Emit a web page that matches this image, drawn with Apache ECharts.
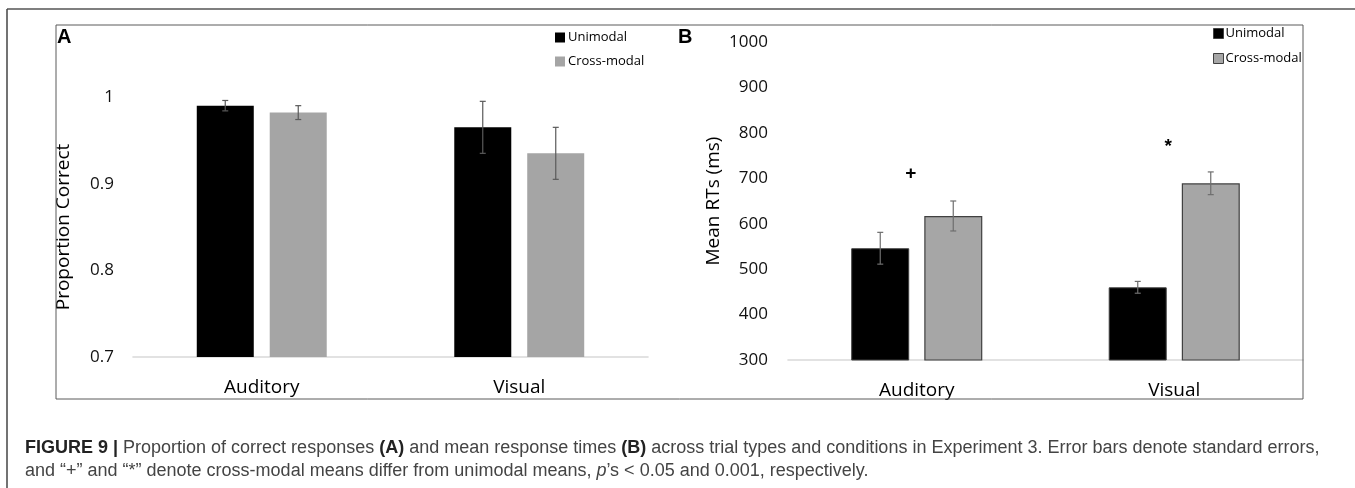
<!DOCTYPE html>
<html>
<head>
<meta charset="utf-8">
<script src="https://cdn.jsdelivr.net/npm/echarts@6/dist/echarts.min.js"></script>
<style>
  html, body { margin: 0; padding: 0; background: #fff; }
  #chart { width: 1355px; height: 488px; }
</style>
</head>
<body>
<div id="chart"></div>
<script>
// ---- data ----
const categories = ['Auditory', 'Visual'];
const seriesNames = ['Unimodal', 'Cross-modal'];
// Panel A: proportion correct
const accUni = [0.990, 0.965];
const accUniErr = [0.006, 0.030];
const accCross = [0.982, 0.935];
const accCrossErr = [0.008, 0.030];
const accMin = 0.7, accMax = 1.0, accStep = 0.1;
// Panel B: mean RTs (ms)
const rtUni = [546, 460];
const rtUniErr = [35, 13];
const rtCross = [617, 689];
const rtCrossErr = [33, 25];
const rtMin = 300, rtMax = 1000, rtStep = 100;
// significance markers (panel B)
const sigLabels = ['+', '*'];
const sigValues = [711, 769];
const captionLine1 = ['FIGURE 9 |', ' Proportion of correct responses ', '(A)', ' and mean response times ', '(B)', ' across trial types and conditions in Experiment 3. Error bars denote standard errors,'];
const captionLine2 = ['and \u201c+\u201d and \u201c*\u201d denote cross-modal means differ from unimodal means, ', 'p', '\u2019s < 0.05 and 0.001, respectively.'];

const FONT = 'Open Sans';
const chart = echarts.init(document.getElementById('chart'), null, { renderer: 'canvas' });

function errorBarSeries(name, gridIdx, vals, errs, side, color) {
  return {
    type: 'custom',
    name: name,
    xAxisIndex: gridIdx,
    yAxisIndex: gridIdx,
    z: 5,
    data: categories.map((c, i) => [i, vals[i], errs[i]]),
    renderItem: function (params, api) {
      const ci = api.value(0), v = api.value(1), e = api.value(2);
      const off = side * 36.5;
      const top = api.coord([ci, v + e]);
      const bot = api.coord([ci, v - e]);
      const x = top[0] + off;
      const cap = 3;
      const st = { stroke: color, lineWidth: 1.2 };
      return {
        type: 'group',
        children: [
          { type: 'line', shape: { x1: x, y1: top[1], x2: x, y2: bot[1] }, style: st },
          { type: 'line', shape: { x1: x - cap, y1: top[1], x2: x + cap, y2: top[1] }, style: st },
          { type: 'line', shape: { x1: x - cap, y1: bot[1], x2: x + cap, y2: bot[1] }, style: st }
        ]
      };
    }
  };
}

const xAxisCommon = {
  type: 'category',
  data: categories,
  axisLine: { lineStyle: { color: '#d9d9d9', width: 1.6 } },
  axisTick: { show: false },
  axisLabel: { fontFamily: FONT, fontSize: 19, color: '#000', margin: 21 }
};

const option = {
  animation: false,
  backgroundColor: '#fff',
  grid: [
    { left: 133, top: 97, width: 515, height: 260 },
    { left: 788, top: 42, width: 515, height: 318 }
  ],
  xAxis: [
    Object.assign({ gridIndex: 0 }, xAxisCommon),
    Object.assign({ gridIndex: 1 }, xAxisCommon)
  ],
  yAxis: [
    {
      gridIndex: 0, type: 'value', min: accMin, max: accMax, interval: accStep,
      axisLine: { show: false }, axisTick: { show: false }, splitLine: { show: false },
      axisLabel: { fontFamily: FONT, fontSize: 17, color: '#111', margin: 19 },
      name: 'Proportion Correct', nameLocation: 'middle', nameGap: 60, nameMoveOverlap: false,
      nameTextStyle: { fontFamily: FONT, fontSize: 19, color: '#000' }
    },
    {
      gridIndex: 1, type: 'value', min: rtMin, max: rtMax, interval: rtStep,
      axisLine: { show: false }, axisTick: { show: false }, splitLine: { show: false },
      axisLabel: { fontFamily: FONT, fontSize: 17, color: '#111', margin: 20,
                   formatter: function (v) { return String(v); } },
      name: 'Mean RTs (ms)', nameLocation: 'middle', nameGap: 65, nameMoveOverlap: false,
      nameTextStyle: { fontFamily: FONT, fontSize: 19, color: '#000' }
    }
  ],
  legend: [
    {
      left: 555, top: 31, padding: 0, orient: 'vertical', itemWidth: 10, itemHeight: 10, itemGap: 11,
      icon: 'rect', selectedMode: false,
      textStyle: { fontFamily: FONT, fontSize: 13, color: '#000', padding: [0, 0, 0, -2] },
      data: [
        { name: seriesNames[0], itemStyle: { color: '#000', borderWidth: 0 } },
        { name: seriesNames[1], itemStyle: { color: '#a5a5a5', borderWidth: 0 } }
      ]
    },
    {
      left: 1213, top: 27, padding: 0, orient: 'vertical', itemWidth: 10, itemHeight: 10, itemGap: 12,
      icon: 'rect', selectedMode: false,
      textStyle: { fontFamily: FONT, fontSize: 13, color: '#000', padding: [0, 0, 0, -3] },
      data: [
        { name: seriesNames[0], itemStyle: { color: '#000', borderColor: '#404040', borderWidth: 1 } },
        { name: seriesNames[1], itemStyle: { color: '#a6a6a6', borderColor: '#404040', borderWidth: 1 } }
      ]
    }
  ],
  series: [
    { type: 'bar', name: seriesNames[0], xAxisIndex: 0, yAxisIndex: 0, data: accUni,
      barWidth: 57, barGap: '28%', itemStyle: { color: '#000' } },
    { type: 'bar', name: seriesNames[1], xAxisIndex: 0, yAxisIndex: 0, data: accCross,
      barWidth: 57, barGap: '28%', itemStyle: { color: '#a5a5a5' } },
    { type: 'bar', name: seriesNames[0], xAxisIndex: 1, yAxisIndex: 1, data: rtUni,
      barWidth: 58, barGap: '26%', itemStyle: { color: '#000', borderColor: '#404040', borderWidth: 1 } },
    { type: 'bar', name: seriesNames[1], xAxisIndex: 1, yAxisIndex: 1, data: rtCross,
      barWidth: 58, barGap: '26%', itemStyle: { color: '#a6a6a6', borderColor: '#404040', borderWidth: 1.2 } },
    errorBarSeries('errA1', 0, accUni, accUniErr, -1, '#5a5a5a'),
    errorBarSeries('errA2', 0, accCross, accCrossErr, 1, '#5a5a5a'),
    errorBarSeries('errB1', 1, rtUni, rtUniErr, -1, '#6e6e6e'),
    errorBarSeries('errB2', 1, rtCross, rtCrossErr, 1, '#6e6e6e'),
    {
      type: 'custom', name: 'sig', xAxisIndex: 1, yAxisIndex: 1, z: 6,
      data: categories.map((c, i) => [i, sigValues[i]]),
      renderItem: function (params, api) {
        const p = api.coord([api.value(0), api.value(1)]);
        return {
          type: 'text', x: p[0] - 6, y: p[1],
          style: { text: sigLabels[params.dataIndex], font: 'bold 19px "Liberation Sans"', fill: '#000',
                   textAlign: 'center', textVerticalAlign: 'middle' }
        };
      }
    }
  ],
  graphic: [
    { type: 'line', shape: { x1: 7, y1: 9, x2: 1355, y2: 9 }, style: { stroke: '#555', lineWidth: 1.5 }, z: 10 },
    { type: 'line', shape: { x1: 7, y1: 9, x2: 7, y2: 488 }, style: { stroke: '#444', lineWidth: 1.5 }, z: 10 },
    { type: 'rect', shape: { x: 56, y: 25, width: 1247, height: 374 }, style: { fill: 'none', stroke: '#5a5a5a', lineWidth: 1 }, z: 10 },
    { type: 'text', x: 57, y: 27, style: { text: 'A', font: 'bold 20px "Liberation Sans"', fill: '#000' }, z: 10 },
    { type: 'text', x: 678, y: 27, style: { text: 'B', font: 'bold 20px "Liberation Sans"', fill: '#000' }, z: 10 },
    {
      type: 'text', x: 25, y: 448, z: 10,
      style: {
        text: '{b|' + captionLine1[0] + '}' + captionLine1[1] + '{b|' + captionLine1[2] + '}' + captionLine1[3] + '{b|' + captionLine1[4] + '}' + captionLine1[5],
        fontFamily: 'Liberation Sans', fontSize: 18, fill: '#444', textVerticalAlign: 'middle',
        rich: { b: { fontWeight: 'bold', fill: '#222', fontFamily: 'Liberation Sans', fontSize: 18 } }
      }
    },
    {
      type: 'text', x: 25, y: 471, z: 10,
      style: {
        text: captionLine2[0] + '{i|' + captionLine2[1] + '}' + captionLine2[2],
        fontFamily: 'Liberation Sans', fontSize: 18, fill: '#444', textVerticalAlign: 'middle',
        rich: { i: { fontStyle: 'italic', fill: '#444', fontFamily: 'Liberation Sans', fontSize: 18 } }
      }
    }
  ]
};
chart.setOption(option);
</script>
</body>
</html>
